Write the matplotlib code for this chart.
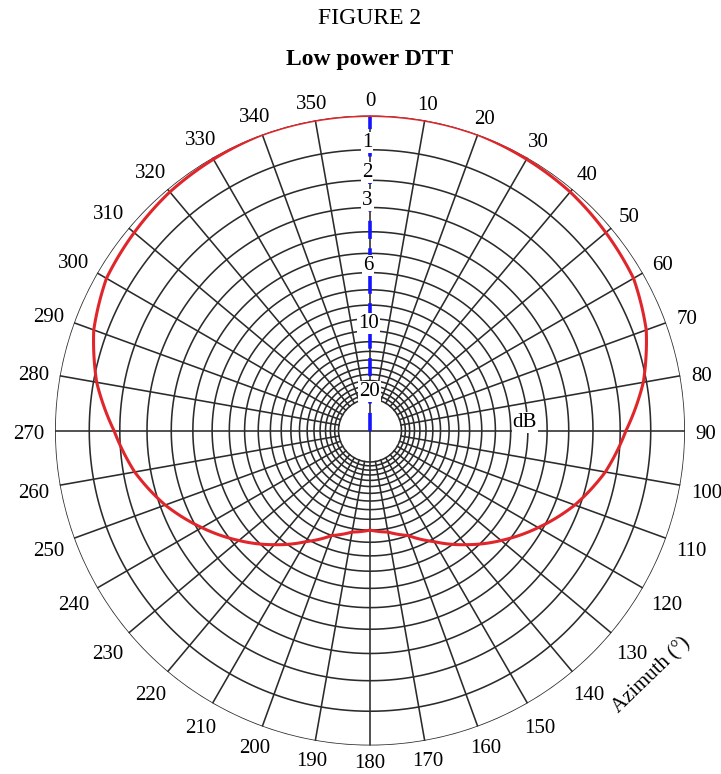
import numpy as np
import matplotlib
matplotlib.use("Agg")
import matplotlib.pyplot as plt

plt.rcParams["font.family"] = ["Liberation Serif", "DejaVu Serif"]

# relative pattern (dB below maximum) against azimuth
azimuth_deg = [0, 10, 20, 30, 40, 50, 60, 70, 80, 90, 100, 110, 120,
               130, 140, 150, 160, 170, 180, 190, 200, 210, 220, 230,
               240, 250, 260, 270, 280, 290, 300, 310, 320, 330, 340,
               350, 360]
pattern_db = [0.0, 0.0, 0.0, 0.05, 0.1, 0.2, 0.3, 0.6, 1.1, 1.8, 2.4,
              3.2, 4.2, 5.3, 6.5, 7.8, 9.0, 9.7, 10.0, 9.7, 9.0, 7.8,
              6.5, 5.3, 4.2, 3.2, 2.4, 1.8, 1.1, 0.6, 0.3, 0.2, 0.1,
              0.05, 0.0, 0.0, 0.0]

ring_db = list(range(0, 21))          # one circle per dB, 0 ... 20 dB
ring_labels_db = [1, 2, 3, 6, 10, 20]
spoke_deg = list(range(0, 360, 10))
axis_label_deg = list(range(0, 360, 10))


def db_to_r(db):
    # relative field scale: r = 10^(-dB/20)
    return 10 ** (-np.asarray(db, dtype=float) / 20.0)


fig = plt.figure(figsize=(7.21, 7.74), dpi=100)
R_PX = 315.0
cx, cy = 370.0, 430.5
ax = fig.add_axes([(cx - R_PX) / 721, (774 - cy - R_PX) / 774,
                   2 * R_PX / 721, 2 * R_PX / 774], projection="polar")
ax.set_theta_zero_location("N")
ax.set_theta_direction(-1)
ax.set_ylim(0, 1)
ax.grid(False)
ax.set_xticks([])
ax.set_yticks([])
ax.spines["polar"].set_visible(False)

grid_kw = dict(color="#2b2b2b", linewidth=1.15, zorder=1)
theta_full = np.linspace(0, 2 * np.pi, 721)
for db in ring_db:
    ax.plot(theta_full, np.full_like(theta_full, db_to_r(db)), **grid_kw)

for a in spoke_deg:
    r0 = 0.0 if a % 90 == 0 else db_to_r(20)
    ax.plot([np.radians(a)] * 2, [r0, 1.0], **grid_kw)

# blue dashed reference along 0 degrees
ax.plot([0, 0], [0, 1.0], color="#1414ff", linewidth=2.6,
        dashes=(5, 2.6), zorder=3)

# radiation pattern, drawn curved between the read points
pattern_line, = ax.plot(np.radians(azimuth_deg), db_to_r(pattern_db),
                        color="#e0262b", linewidth=2.2, zorder=4)
pattern_line.get_path()._interpolation_steps = 40

label_box = dict(boxstyle="square,pad=0.05", fc="white", ec="none")
shift = (0, -3)

# dB labels along the 0 degree axis
for db in ring_labels_db:
    r = db_to_r(db) + 10.5 / R_PX
    ax.annotate(str(db), (np.radians(-0.6), r), xytext=shift,
                textcoords="offset pixels", fontsize=15, ha="center",
                va="center", zorder=5, bbox=label_box)

ax.annotate("dB", (np.radians(85.8), 0.493), xytext=shift,
            textcoords="offset pixels", fontsize=15, ha="center",
            va="center", zorder=5, bbox=label_box)

# azimuth labels round the outside
for a in axis_label_deg:
    s = str(a)
    w = 10.5 * len(s)
    h = 15.0
    t = np.radians(a)
    ext = abs(np.sin(t)) * w / 2 + abs(np.cos(t)) * h / 2
    r = (R_PX + 10 + ext) / R_PX
    dy = -4 if np.cos(t) > -0.9 else -1
    ax.annotate(s, (t, r), xytext=(0, dy), textcoords="offset pixels",
                fontsize=15, ha="center", va="center", annotation_clip=False)

ax.text(np.radians(131), 1.187, "Azimuth (°)", fontsize=15, ha="center",
        va="center", rotation=44, rotation_mode="anchor", clip_on=False)

fig.text(0.513, 1 - 19 / 774, "FIGURE 2", fontsize=17, ha="center",
         va="center")
fig.text(0.513, 1 - 59 / 774, "Low power DTT", fontsize=17,
         fontweight="bold", ha="center", va="center")

fig.savefig("out.png", dpi=100, facecolor="white")
